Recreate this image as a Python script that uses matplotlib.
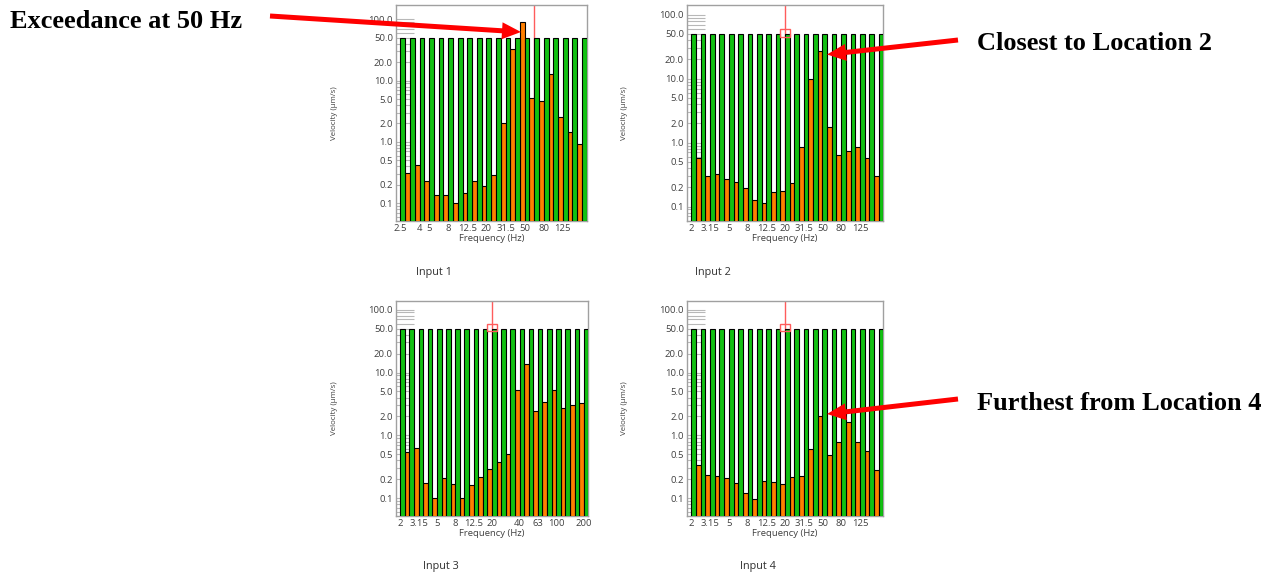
import numpy as np
import matplotlib
matplotlib.use("Agg")
import matplotlib.pyplot as plt
from matplotlib.patches import FancyArrow, Rectangle
from matplotlib.ticker import FixedLocator, LogLocator, NullFormatter

# ---------------- data ----------------
bands_in1 = [2.5, 3.15, 4, 5, 6.3, 8, 10, 12.5, 16, 20, 25, 31.5, 40, 50, 63, 80, 100, 125, 160, 200]
bands_in234 = [2, 2.5, 3.15, 4, 5, 6.3, 8, 10, 12.5, 16, 20, 25, 31.5, 40, 50, 63, 80, 100, 125, 160, 200]

limit_value = 50.0

velocity_in1 = [np.nan, 0.31, 0.42, 0.23, 0.137, 0.137, 0.10, 0.146, 0.233, 0.188, 0.29,
                2.05, 33, 90, 5.3, 4.6, 13, 2.6, 1.48, 0.94]
velocity_in2 = [np.nan, 0.57, 0.305, 0.32, 0.267, 0.24, 0.198, 0.127, 0.113, 0.167, 0.174,
                0.23, 0.85, 9.9, 27, 1.74, 0.63, 0.75, 0.85, 0.58, 0.305]
velocity_in3 = [np.nan, 0.55, 0.63, 0.178, 0.10, 0.207, 0.172, 0.10, 0.166, 0.22, 0.296,
                0.373, 0.50, 5.2, 13.6, 2.49, 3.43, 5.34, 2.73, 3.1, 3.26]
velocity_in4 = [np.nan, 0.34, 0.238, 0.226, 0.21, 0.175, 0.122, 0.098, 0.188, 0.184, 0.169,
                0.218, 0.226, 0.61, 2.06, 0.49, 0.79, 1.63, 0.80, 0.575, 0.286]

xlabels_in1 = ["2.5", "4", "5", "8", "12.5", "20", "31.5", "50", "80", "125"]
xlabels_in24 = ["2", "3.15", "5", "8", "12.5", "20", "31.5", "50", "80", "125"]
xlabels_in3 = ["2", "3.15", "5", "8", "12.5", "20", "40", "63", "100", "200"]

ytick_values = [0.1, 0.2, 0.5, 1, 2, 5, 10, 20, 50, 100]
ytick_labels = ["0.1", "0.2", "0.5", "1.0", "2.0", "5.0", "10.0", "20.0", "50.0", "100.0"]

panel_titles = ["Input 1", "Input 2", "Input 3", "Input 4"]
cursor_freq = [63, 20, 20, 20]
cursor_box = [False, True, True, True]
ylims = [(0.052, 171), (0.06, 142), (0.053, 137), (0.053, 137)]

# ---------------- figure ----------------
W, H = 1275, 575
fig = plt.figure(figsize=(W / 100, H / 100), dpi=100)
fig.patch.set_facecolor("white")

chart_font = ["Open Sans", "DejaVu Sans"]
GREEN = "#12c112"
ORANGE = "#ff8000"
CURSOR = "#ff5c5c"
SPINE = "#a0a0a0"
TEXT = "#404040"

def px_rect(x0, y0, x1, y1):
    return [x0 / W, 1 - y1 / H, (x1 - x0) / W, (y1 - y0) / H]

rects = [px_rect(395.7, 5, 586.7, 220.7),
         px_rect(686.7, 5, 883.3, 220.7),
         px_rect(395.7, 301, 588.3, 515.7),
         px_rect(686.7, 301, 883.3, 515.7)]

panels = [(bands_in1, velocity_in1, xlabels_in1),
          (bands_in234, velocity_in2, xlabels_in24),
          (bands_in234, velocity_in3, xlabels_in3),
          (bands_in234, velocity_in4, xlabels_in24)]

for k, (rect, (bands, vel, xlabs)) in enumerate(zip(rects, panels)):
    ax = fig.add_axes(rect)
    n = len(bands)
    idx = np.arange(n)
    ax.set_yscale("log")
    ax.set_xlim(-0.5, n - 0.5)
    ax.set_ylim(*ylims[k])
    lo = ylims[k][0] / 10

    # cursor line (behind bars)
    ci = bands.index(cursor_freq[k])
    ax.axvline(ci, color=CURSOR, lw=1.0, zorder=1)

    vel_arr = np.array(vel, dtype=float)
    ok = ~np.isnan(vel_arr)
    ax.bar(idx[ok] - 0.25, vel_arr[ok] - lo, width=0.5, bottom=lo, color=ORANGE,
           edgecolor="black", linewidth=0.8, zorder=3)
    ax.bar(idx + 0.25, np.full(n, limit_value) - lo, width=0.5, bottom=lo, color=GREEN,
           edgecolor="black", linewidth=0.8, zorder=3)

    if cursor_box[k]:
        ax.add_patch(Rectangle((ci - 0.57, 45), 1.14, 14, facecolor="none",
                               edgecolor=CURSOR, lw=1.0, zorder=5))

    # ticks
    label_pos = [bands.index(float(l)) for l in xlabs]
    ax.xaxis.set_major_locator(FixedLocator(label_pos))
    ax.set_xticklabels(xlabs)
    ax.tick_params(axis="x", length=0, pad=2.5, labelsize=6.8, labelcolor=TEXT)
    ax.yaxis.set_major_locator(FixedLocator(ytick_values))
    ax.set_yticklabels(ytick_labels)
    ax.yaxis.set_minor_locator(LogLocator(base=10, subs=np.arange(2, 10), numticks=20))
    ax.yaxis.set_minor_formatter(NullFormatter())
    ax.tick_params(axis="y", which="both", direction="in", length=13, width=0.8,
                   color="#b8b8b8", pad=2, labelsize=6.8, labelcolor=TEXT)
    for lab in ax.get_xticklabels() + ax.get_yticklabels():
        lab.set_family(chart_font)

    for sp in ax.spines.values():
        sp.set_color(SPINE)
        sp.set_linewidth(1.0)

    ax.set_ylabel("Velocity (μm/s)", fontsize=5.7, color=TEXT, family=chart_font)
    ax.yaxis.set_label_coords(-0.30, 0.5)
    ax.set_xlabel("Frequency (Hz)", fontsize=6.8, color=TEXT, family=chart_font)
    ax.xaxis.set_label_coords(0.5, -0.062)

# ---------------- overlay: annotations ----------------
ov = fig.add_axes([0, 0, 1, 1], zorder=10)
ov.set_xlim(0, W)
ov.set_ylim(H, 0)
ov.axis("off")
ov.patch.set_alpha(0)

title_pos = [(434, 273), (712.5, 273), (441, 567), (758, 567)]
for t, (x, y) in zip(panel_titles, title_pos):
    ov.text(x, y, t, ha="center", va="center", fontsize=7.8, color="#303030", family=chart_font)

notes = [("Exceedance at 50 Hz", 10, 21, (270, 16), (521, 32)),
         ("Closest to Location 2", 977, 44, (958, 40), (827, 54.5)),
         ("Furthest from Location 4", 977, 403, (958, 399), (827, 414))]
for txt, tx, ty, (x0, y0), (x1, y1) in notes:
    ov.text(tx, ty, txt, ha="left", va="center", fontsize=19, fontweight="bold",
            family=["Liberation Serif", "DejaVu Serif"], color="black")
    ov.add_patch(FancyArrow(x0, y0, x1 - x0, y1 - y0, width=5, head_width=17,
                            head_length=19, length_includes_head=True,
                            color="#ff0000", lw=0))

fig.savefig("out.png", dpi=100, facecolor="white")
